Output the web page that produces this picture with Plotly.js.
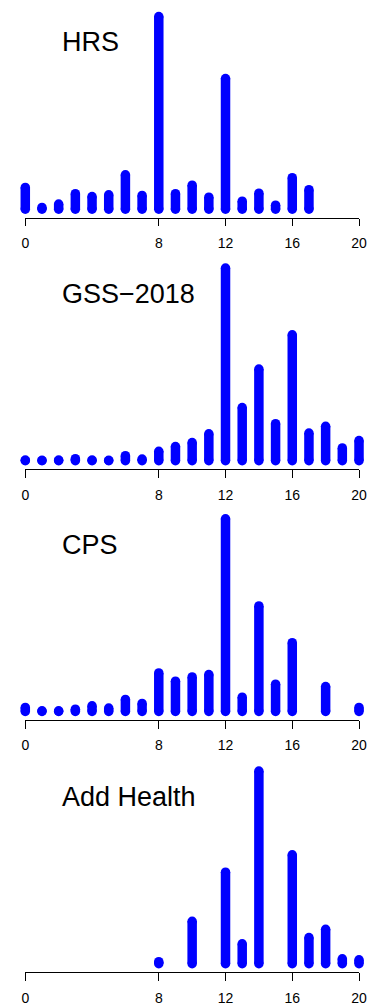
<!DOCTYPE html>
<html>
<head>
<meta charset="utf-8">
<script src="https://cdn.plot.ly/plotly-3.0.1.min.js"></script>
<style>
html,body{margin:0;padding:0;background:#ffffff;}
#chart{width:371px;height:1004px;}
</style>
</head>
<body>
<div id="chart"></div>
<script>
// ---- data (years of schooling, share of respondents in %) ----
const years = [0,1,2,3,4,5,6,7,8,9,10,11,12,13,14,15,16,17,18,19,20];
const panelTitles = ["HRS", "GSS\u22122018", "CPS", "Add Health"];
const hrs       = [3.8,0.3,0.9,2.7,2.2,2.5,6.0,2.4,33.6,2.7,4.2,2.1,22.8,1.4,2.8,0.7,5.5,3.4,null,null,null];
const gss2018   = [0.1,0.05,0.1,0.3,0.1,0.05,0.75,0.25,1.4,2.1,2.7,4.0,28.6,7.9,13.6,5.5,18.7,4.1,5.1,1.9,3.0];
const cps       = [0.65,0.1,0.1,0.37,0.91,0.54,1.95,1.3,6.27,4.92,5.62,6.0,31.4,2.32,17.2,4.43,11.2,null,4.06,null,0.65];
const addHealth = [null,null,null,null,null,null,null,null,0.38,null,8.05,null,17.4,3.77,36.6,null,20.7,4.96,6.54,0.94,0.75];
const tickVals  = [0,8,12,16,20];

const series = [hrs, gss2018, cps, addHealth];

// ---- geometry (pixels) ----
const W = 371, H = 1004;
const axisLineY = [217.8, 469.3, 720.0, 972.3]; // y of each panel's x-axis line
const x0px = 25.3, x20px = 359.0;                // pixel of x=0 and x=20
const pxPerUnit = (x20px - x0px) / 20;
const maxPx = 192.6;   // height in px of the tallest bar in each panel
const padBottom = 8.6; // px between axis line and y=0
const padTop = 8.0;
const barW = 9.5;
const blue = "#0000ff";
const font = "Liberation Sans, Arial, Helvetica, sans-serif";

const dataRange = [-1, 20.5];
const traces = [];
const layout = {
  width: W, height: H,
  margin: {l:0, r:0, t:0, b:0, pad:0},
  paper_bgcolor: "#ffffff",
  plot_bgcolor: "rgba(0,0,0,0)",
  showlegend: false,
  annotations: []
};

series.forEach((vals, i) => {
  const n = i + 1;
  const xs = [], ys = [];
  years.forEach((yr, j) => {
    const v = vals[j];
    if (v === null || v === undefined) return;
    xs.push(yr, yr, null);
    ys.push(0, v, null);
  });
  const xId = n === 1 ? "x" : "x" + n;
  const yId = n === 1 ? "y" : "y" + n;
  const dn = n + 4;
  traces.push({
    type: "scatter", mode: "lines+markers",
    x: xs, y: ys, xaxis: xId, yaxis: yId,
    line: {color: blue, width: barW},
    marker: {color: blue, size: barW, line: {width: 0}},
    connectgaps: false, hoverinfo: "skip", showlegend: false
  });
  // empty trace so the display axis gets its own subplot
  traces.push({
    type: "scatter", mode: "markers",
    x: [tickVals[0]], y: [null], xaxis: "x" + dn, yaxis: yId,
    marker: {size: 0, opacity: 0}, hoverinfo: "skip", showlegend: false
  });

  const M = Math.max(...vals.filter(v => v !== null));
  const yA = axisLineY[i];
  const domH = padBottom + maxPx + padTop;
  layout[n === 1 ? "yaxis" : "yaxis" + n] = {
    domain: [(H - yA) / H, (H - yA + domH) / H],
    range: [-padBottom / maxPx * M, (1 + padTop / maxPx) * M],
    visible: false, fixedrange: true
  };
  // data x axis (wider, hidden) so round ends are not clipped
  layout[n === 1 ? "xaxis" : "xaxis" + n] = {
    domain: [(x0px + dataRange[0] * pxPerUnit) / W, (x0px + dataRange[1] * pxPerUnit) / W],
    range: dataRange, anchor: yId, visible: false, fixedrange: true
  };
  // display x axis from 0 to 20 with ticks
  layout["xaxis" + dn] = {
    domain: [x0px / W, x20px / W],
    range: [tickVals[0], tickVals[tickVals.length - 1]],
    anchor: yId,
    tickmode: "array", tickvals: tickVals, ticktext: tickVals.map(String),
    ticks: "outside", ticklen: 7.5, tickwidth: 1, tickcolor: "#000000",
    showline: true, linecolor: "#000000", linewidth: 1,
    showgrid: false, zeroline: false,
    ticklabelstandoff: 5,
    tickfont: {family: font, size: 14, color: "#000000"},
    fixedrange: true
  };
  layout.annotations.push({
    text: panelTitles[i], xref: "paper", yref: "paper",
    x: 60 / W, y: (H - (yA - 175.5)) / H,
    xanchor: "left", yanchor: "middle", showarrow: false,
    font: {family: font, size: 27, color: "#000000"}
  });
});

Plotly.newPlot("chart", traces, layout, {staticPlot: true, displayModeBar: false});
</script>
</body>
</html>
